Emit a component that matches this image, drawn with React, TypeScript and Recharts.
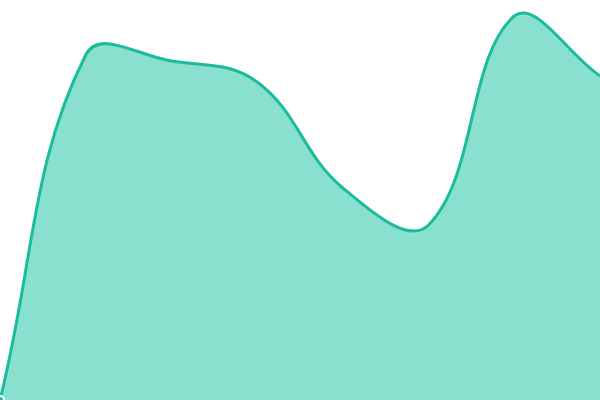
import { AreaChart, Area, XAxis, YAxis } from "recharts";

// sample positions along the x axis
const steps = ["a", "b", "c", "d", "e", "f", "g", "h"];
// series values (0..400 scale)
const values = [0, 345, 339, 318, 212, 175, 384, 324];

const data = steps.map((step, i) => ({ step, value: values[i] }));

const W = 600;
const H = 400;

type Pt = { x: number; y: number };

// cardinal-style spline (tension 0.4) with control points kept inside the plot
function splineCurve(context: any) {
  const tension = 0.4;
  let pts: Pt[] = [];
  let line = NaN;
  const cap = (p: Pt): Pt => ({
    x: Math.min(Math.max(p.x, 0), W),
    y: Math.min(Math.max(p.y, 0), H),
  });

  const draw = () => {
    const n = pts.length;
    if (!n) return;
    if (line) context.lineTo(pts[0].x, pts[0].y);
    else context.moveTo(pts[0].x, pts[0].y);
    if (n === 1) return;
    if (n === 2) {
      context.lineTo(pts[1].x, pts[1].y);
      return;
    }
    const ctrl = pts.map((p, i) => {
      const prev = pts[i - 1] ?? p;
      const next = pts[i + 1] ?? p;
      const d01 = Math.hypot(p.x - prev.x, p.y - prev.y);
      const d12 = Math.hypot(next.x - p.x, next.y - p.y);
      const sum = d01 + d12 || 1;
      const fa = (tension * d01) / sum;
      const fb = (tension * d12) / sum;
      return {
        before: cap({ x: p.x - fa * (next.x - prev.x), y: p.y - fa * (next.y - prev.y) }),
        after: cap({ x: p.x + fb * (next.x - prev.x), y: p.y + fb * (next.y - prev.y) }),
      };
    });
    for (let i = 1; i < n; i++) {
      const a = ctrl[i - 1].after;
      const b = ctrl[i].before;
      context.bezierCurveTo(a.x, a.y, b.x, b.y, pts[i].x, pts[i].y);
    }
  };

  return {
    areaStart() {
      line = 0;
    },
    areaEnd() {
      line = NaN;
    },
    lineStart() {
      pts = [];
    },
    lineEnd() {
      draw();
      if (line || (line !== 0 && pts.length === 1)) context.closePath();
      line = 1 - line;
    },
    point(x: number, y: number) {
      pts.push({ x: +x, y: +y });
    },
  };
}

export default function App() {
  return (
    <div style={{ position: "fixed", top: 0, left: 0, width: W, height: H, background: "#fff" }}>
      <AreaChart width={W} height={H} data={data} margin={{ top: 0, right: 0, bottom: 0, left: 0 }}>
        <XAxis dataKey="step" hide />
        <YAxis hide domain={[0, 400]} />
        <Area
          type={splineCurve as any}
          dataKey="value"
          stroke="#1abc9c"
          strokeWidth={3}
          fill="#8ae0cf"
          fillOpacity={1}
          isAnimationActive={false}
        />
      </AreaChart>
    </div>
  );
}
